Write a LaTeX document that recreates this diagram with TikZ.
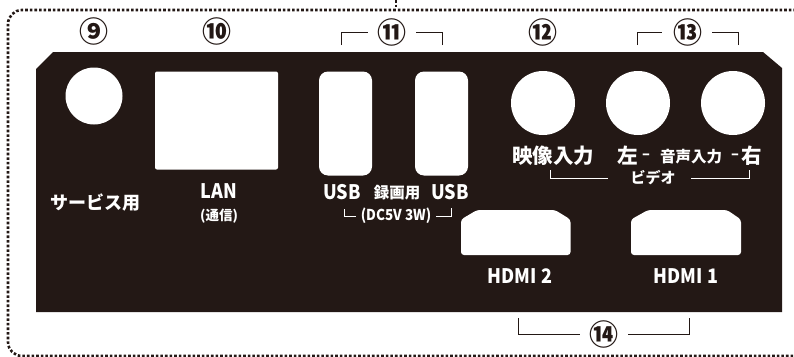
\documentclass[tikz,border=0pt]{standalone}
\usepackage{fontspec}
\setmainfont{Noto Sans CJK JP}
\newfontfamily\latinfont{Noto Sans CJK JP}[FakeStretch=0.9]
\usetikzlibrary{arrows}
\definecolor{panelblack}{HTML}{231815}
\tikzset{
  jack/.style={circle, fill=white, inner sep=0pt, minimum size=#1},
  port/.style={rectangle, fill=white, inner sep=0pt, rounded corners=#1},
  num/.style={inner sep=0pt, text=panelblack, font=\bfseries\fontsize{29}{29}\selectfont},
  lbl/.style={inner sep=0pt, text=white, font=\bfseries\fontsize{#1}{#1}\selectfont},
  lat/.style={inner sep=0pt, text=white, font=\latinfont\bfseries\fontsize{#1}{#1}\selectfont},
  grp/.style={line width=1pt, draw=panelblack},
  subgrp/.style={line width=1pt, draw=white}
}
\begin{document}
\begin{tikzpicture}[x=1pt,y=-1pt]
            \useasboundingbox (0,0) rectangle (794,356);
            \clip (0,0) rectangle (794,356);
            \draw[line width=2.6pt, dotted, panelblack, rounded corners=14pt]
                (796,10) -- (8,10) -- (8,356) -- (796,356);
            \coordinate (stubtop) at (396,0);
            \coordinate (stubend) at (396,9);
            \draw[line width=2.6pt, dotted, panelblack] (stubtop) -- (stubend);

            \fill[panelblack] (53,52) -- (763,52) -- (782,68) -- (782,312) -- (36,312) -- (36,69) -- cycle;

            \node[jack=57pt] (service) at (94,96) {};
            \node[port=2pt, minimum width=123pt, minimum height=98pt] (lan) at (216.5,120.5) {};
            \node[port=9pt, minimum width=53pt, minimum height=104pt] (usba) at (345.5,123.5) {};
            \node[port=9pt, minimum width=53pt, minimum height=104pt] (usbb) at (441.5,123.5) {};
            \node[jack=64pt] (video) at (543,103) {};
            \node[jack=64pt] (audiol) at (638,103) {};
            \node[jack=64pt] (audior) at (733,103) {};
            \fill[white, rounded corners=3pt] (477,210) -- (555,210) -- (570.5,219.5) -- (570.5,255) -- (461,255) -- (461,219.5) -- cycle;
            \fill[white, rounded corners=3pt] (648,210) -- (727,210) -- (741,219.5) -- (741,255) -- (631,255) -- (631,219.5) -- cycle;

            \node[num] (n9)  at (94,31)  {⑨};
            \node[num] (n10) at (217,31) {⑩};
            \node[num] (n11) at (392,32) {⑪};
            \node[num] (n12) at (543,32) {⑫};
            \node[num] (n13) at (688,32) {⑬};
            \node[num] (n14) at (604,334) {⑭};

            \node[lbl=18] (lservice) at (95,203) {サービス用};
            \node[lat=20] (llan)     at (219,191) {LAN};
            \node[lbl=13.5] (lcomm)  at (219,216) {(通信)};
            \node[lat=20] (lusba)    at (342,192) {USB};
            \node[lbl=15.5] (lrec)   at (397,193) {録画用};
            \node[lat=20] (lusbb)    at (450,192) {USB};
            \node[lat=15] (ldc)      at (396,216) {(DC5V 3W)};
            \node[lbl=20.5] (lvideo) at (553,156) {映像入力};
            \node[lbl=20.5] (lleft)  at (628,156) {左};
            \node[lat=16] (ldasha)   at (646,157) {–};
            \node[lbl=15.5] (laudio) at (691,157) {音声入力};
            \node[lat=16] (ldashb)   at (735,157) {–};
            \node[lbl=20.5] (lright) at (752,156) {右};
            \node[lbl=15] (lvid)     at (653,178) {ビデオ};
            \node[lat=20] (lhdmib)   at (520,276) {HDMI 2};
            \node[lat=20] (lhdmia)   at (686,276) {HDMI 1};

            \coordinate (a1) at (341,45);
            \coordinate (a2) at (442,45);
            \coordinate (b1) at (637,45);
            \coordinate (b2) at (738,45);
            \coordinate (c1) at (518,318);
            \coordinate (c2) at (689,318);
            \coordinate (d1) at (550,170);
            \coordinate (d2) at (749,170);
            \coordinate (e1) at (344,209);
            \coordinate (e2) at (451,208);

            \draw[grp] (a1) |- ([xshift=-9pt]n11.west);
            \draw[grp] (a2) |- ([xshift=9pt]n11.east);
            \draw[grp] (b1) |- ([xshift=-11pt]n13.west);
            \draw[grp] (b2) |- ([xshift=9pt]n13.east);
            \draw[grp] (c1) |- ([xshift=-9pt]n14.west);
            \draw[grp] (c2) |- ([xshift=9pt]n14.east);
            \draw[subgrp] (d1) |- ([xshift=-22pt]lvid.west);
            \draw[subgrp] (d2) |- ([xshift=15pt]lvid.east);
            \draw[subgrp] (e1) |- ([xshift=-5pt]ldc.west);
            \draw[subgrp] (e2) |- ([xshift=5pt]ldc.east);
        \end{tikzpicture}
\end{document}
